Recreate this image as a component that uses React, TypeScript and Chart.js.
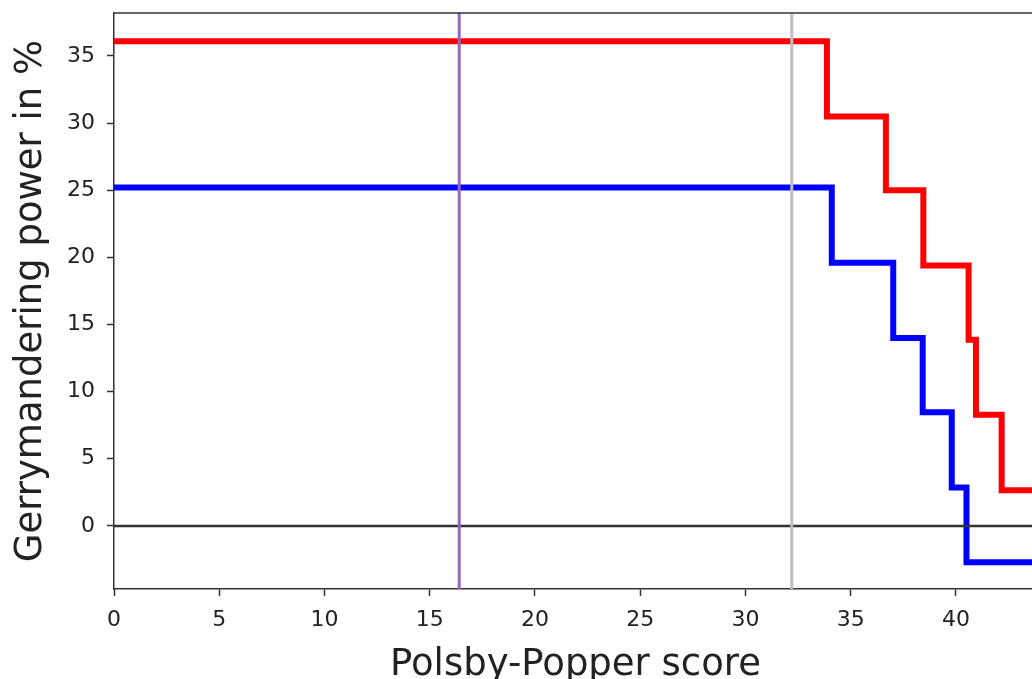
import React, { useEffect, useRef } from "react";
import { Chart, registerables } from "chart.js";

Chart.register(...registerables);

// Axis ranges and ticks
const xMin = 0;
const xMax = 43.85;
const yMin = -4.7;
const yMax = 38.2;
const xTicks = [0, 5, 10, 15, 20, 25, 30, 35, 40];
const yTicks = [0, 5, 10, 15, 20, 25, 30, 35];

// Step series (value holds from x[i] until x[i+1])
const redX = [0, 33.87, 36.67, 38.45, 40.6, 40.95, 42.17, 43.85];
const redY = [36.1, 30.5, 25.0, 19.4, 13.86, 8.27, 2.66, 2.66];
const blueX = [0, 34.1, 37.02, 38.42, 39.8, 40.5, 43.85];
const blueY = [25.2, 19.6, 14.0, 8.46, 2.86, -2.71, -2.71];

// Reference lines
const purpleLineX = 16.4;
const greyLineX = 32.2;
const zeroLineY = 0;

const xTitle = "Polsby-Popper score";
const yTitle = "Gerrymandering power in %";

const FONT = "'DejaVu Sans', sans-serif";

const topSpine = {
  id: "topSpine",
  afterDraw(chart: any) {
    const { ctx, chartArea } = chart;
    ctx.save();
    ctx.strokeStyle = "#333333";
    ctx.lineWidth = 1.5;
    ctx.beginPath();
    ctx.moveTo(chartArea.left - 0.75, chartArea.top);
    ctx.lineTo(chartArea.right, chartArea.top);
    ctx.stroke();
    ctx.restore();
  },
};

export default function App() {
  const ref = useRef<HTMLCanvasElement | null>(null);

  useEffect(() => {
    if (!ref.current) return;
    const toPts = (xs: number[], ys: number[]) => xs.map((x, i) => ({ x, y: ys[i] }));
    const chart = new Chart(ref.current, {
      type: "line",
      data: {
        datasets: [
          {
            data: [
              { x: purpleLineX, y: yMin },
              { x: purpleLineX, y: yMax },
            ],
            borderColor: "#9467bd",
            borderWidth: 3,
            pointRadius: 0,
          },
          {
            data: [
              { x: greyLineX, y: yMin },
              { x: greyLineX, y: yMax },
            ],
            borderColor: "#bfbfbf",
            borderWidth: 3,
            pointRadius: 0,
          },
          {
            data: [
              { x: xMin, y: zeroLineY },
              { x: xMax, y: zeroLineY },
            ],
            borderColor: "#333333",
            borderWidth: 2.5,
            pointRadius: 0,
          },
          {
            data: toPts(redX, redY),
            borderColor: "#ff0000",
            borderWidth: 6,
            pointRadius: 0,
            stepped: "before",
          },
          {
            data: toPts(blueX, blueY),
            borderColor: "#0000ff",
            borderWidth: 6,
            pointRadius: 0,
            stepped: "before",
          },
        ],
      },
      options: {
        animation: false,
        responsive: false,
        events: [],
        layout: { padding: { top: 13, right: 3, left: 0, bottom: 0 } },
        plugins: {
          legend: { display: false },
          tooltip: { enabled: false },
        },
        scales: {
          x: {
            type: "linear",
            min: xMin,
            max: xMax,
            afterFit: (s: any) => {
              s.height = 90;
              s.paddingLeft = 0;
              s.paddingRight = 0;
            },
            afterBuildTicks: (s: any) => {
              s.ticks = xTicks.map((v) => ({ value: v }));
            },
            grid: {
              drawOnChartArea: false,
              drawTicks: true,
              tickLength: 7,
              tickWidth: 1.5,
              tickColor: "#333333",
            },
            border: { display: true, color: "#333333", width: 1.5 },
            ticks: {
              color: "#222222",
              padding: 11,
              maxRotation: 0,
              autoSkip: false,
              font: { family: FONT, size: 22 },
            },
            title: {
              display: true,
              text: xTitle,
              color: "#222222",
              padding: { top: 0, bottom: 0 },
              font: { family: FONT, size: 37, lineHeight: 0.75 },
            },
          },
          y: {
            type: "linear",
            min: yMin,
            max: yMax,
            afterFit: (s: any) => {
              s.width = 114;
              s.paddingTop = 0;
              s.paddingBottom = 0;
            },
            afterBuildTicks: (s: any) => {
              s.ticks = yTicks.map((v) => ({ value: v }));
            },
            grid: {
              drawOnChartArea: false,
              drawTicks: true,
              tickLength: 7,
              tickWidth: 1.5,
              tickColor: "#333333",
            },
            border: { display: true, color: "#333333", width: 1.5 },
            ticks: {
              color: "#222222",
              padding: 12,
              autoSkip: false,
              font: { family: FONT, size: 22 },
            },
            title: {
              display: true,
              text: yTitle,
              color: "#222222",
              padding: { top: 9, bottom: 0 },
              font: { family: FONT, size: 37, lineHeight: 1.2 },
            },
          },
        },
      },
      plugins: [topSpine],
    });
    return () => chart.destroy();
  }, []);

  return (
    <div
      style={{
        position: "fixed",
        left: 0,
        top: 0,
        width: 1032,
        height: 679,
        overflow: "hidden",
        background: "#ffffff",
      }}
    >
      <canvas ref={ref} width={1040} height={679} style={{ display: "block" }} />
    </div>
  );
}
